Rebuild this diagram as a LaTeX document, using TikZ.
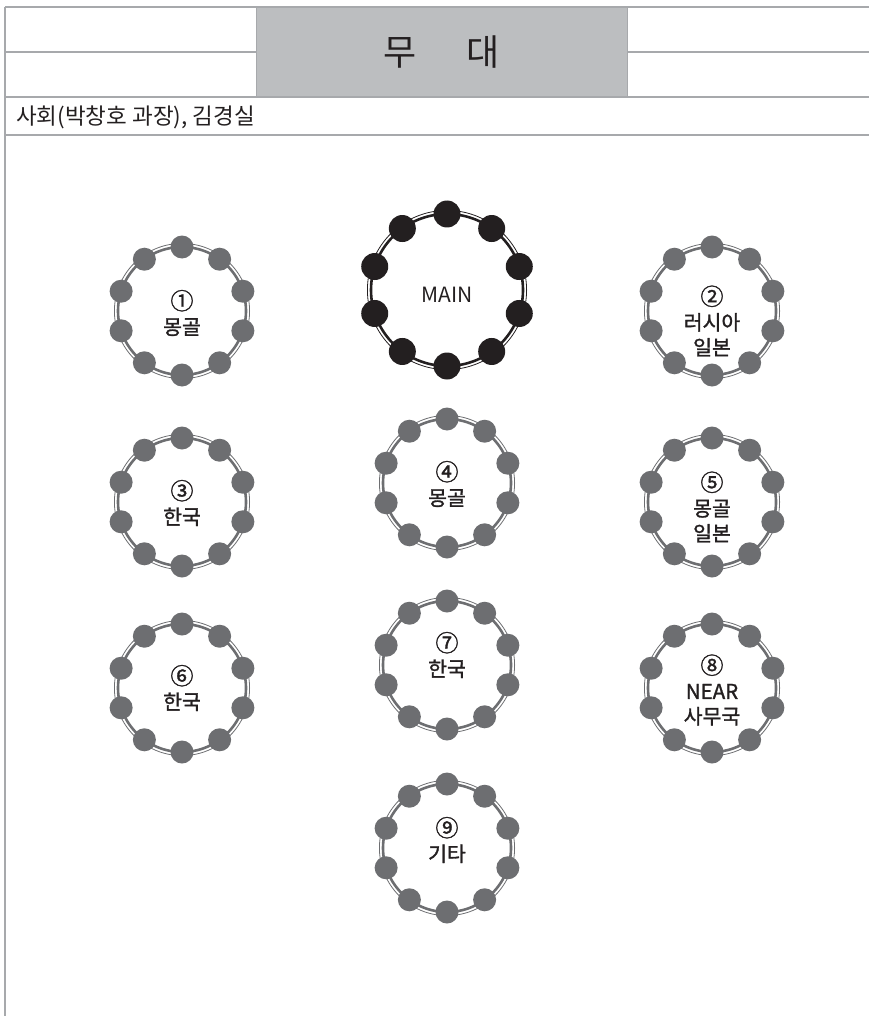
\documentclass[tikz,border=0pt]{standalone}
\usepackage{fontspec}
\setmainfont{Noto Sans CJK KR}
\newfontfamily\labelfont[FakeBold=1.4]{Noto Sans CJK KR}
\usetikzlibrary{calc}
\definecolor{frameline}{HTML}{A7A9AC}
\definecolor{stagefill}{HTML}{BCBEC0}
\definecolor{seatgray}{HTML}{6D6E71}
\definecolor{seatblack}{HTML}{231F20}
\definecolor{textdark}{HTML}{231F20}
\newcommand\cnum[1]{{\fontsize{23}{23}\selectfont #1}}
\tikzset{
  frame/.style={draw=frameline, line width=1.5pt},
  tablelabel/.style={align=center, inner sep=0pt, text=textdark,
    font=\labelfont\fontsize{20.5}{25}\selectfont},
  seat/.style={circle, inner sep=0pt, draw=none},
}
% #1 name, #2 x, #3 y, #4 ring radius, #5 seat size, #6 colour, #7 label, #8 label shift
\newcommand\roundtable[8]{%
  \coordinate (#1) at (#2,#3);
  \node[tablelabel] (#1-label) at ($(#1)+(0,#8)$) {#7};
  \draw[color=#6, line width=2.6pt] (#1) circle[radius=#4pt];
  \draw[color=#6, line width=0.8pt] (#1) circle[radius=#4pt+3.6pt];
  \foreach \a [count=\i] in {90,54,18,-18,-54,-90,-126,-162,-198,-234}
    \node[seat, fill=#6, minimum size=#5pt] (#1-s\i) at ($(#1)+(\a:#4pt)$) {};
}
\begin{document}
\begin{tikzpicture}[x=1pt,y=-1pt]
\useasboundingbox (0,0) rectangle (869,1016);
% stage box
\node[fill=stagefill, draw=frameline, line width=1pt, minimum width=371pt, minimum height=90pt,
      inner sep=0pt, anchor=north west,
      font=\fontsize{36}{36}\selectfont, text=textdark] (stage) at (256,7) {무\hspace{50pt}대};
% frame lines
\coordinate (tl) at (5,7);
\coordinate (tr) at (869,7);
\coordinate (bl) at (5,1016);
\draw[frame] (tl) -- (tr);
\draw[frame] (tl) -- (bl);
\draw[frame] (5,52) -- (stage.west |- 0,52);
\draw[frame] (stage.east |- 0,52) -- (869,52);
\draw[frame] (5,97) -- (869,97);
\draw[frame] (5,135) -- (869,135);
\node[anchor=west, inner sep=0pt, text=textdark, font=\fontsize{22.5}{22.5}\selectfont] (host) at (16,117) {사회(박창호 과장), 김경실};
% tables
\roundtable{main}{447}{290}{76}{27}{seatblack}{\normalfont\fontsize{21}{22}\selectfont MAIN}{5}
\roundtable{t1}{182}{311}{64}{23}{seatgray}{\cnum{①}\\몽골}{2}
\roundtable{t2}{712}{311}{64}{23}{seatgray}{\cnum{②}\\러시아\\일본}{10}
\roundtable{t3}{182}{502}{64}{23}{seatgray}{\cnum{③}\\한국}{1}
\roundtable{t4}{447}{483}{64}{23}{seatgray}{\cnum{④}\\몽골}{1}
\roundtable{t5}{712}{502}{64}{23}{seatgray}{\cnum{⑤}\\몽골\\일본}{5}
\roundtable{t6}{182}{688}{64}{23}{seatgray}{\cnum{⑥}\\한국}{0}
\roundtable{t7}{447}{665}{64}{23}{seatgray}{\cnum{⑦}\\한국}{-10}
\roundtable{t8}{712}{688}{64}{23}{seatgray}{\cnum{⑧}\\NEAR\\사무국}{2}
\roundtable{t9}{447}{848}{64}{23}{seatgray}{\cnum{⑨}\\기타}{-8}
\end{tikzpicture}
\end{document}
